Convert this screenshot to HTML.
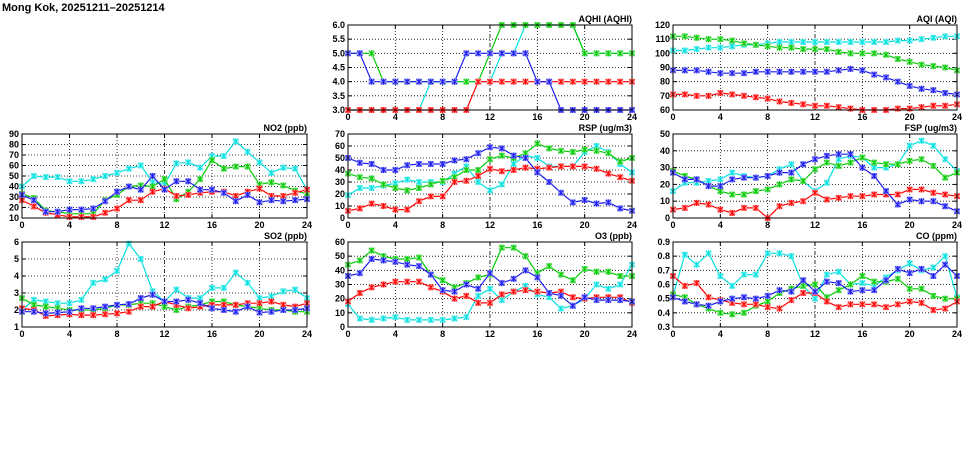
<!DOCTYPE html>
<html><head><meta charset="utf-8"><style>
body{margin:0;background:#fff;width:975px;height:447px;overflow:hidden}
svg text{font-family:"Liberation Sans",sans-serif;font-weight:bold;font-size:9px;fill:#000}
</style></head><body>
<svg id="s" width="975" height="447" xmlns="http://www.w3.org/2000/svg">
<text x="2" y="11" style="font-size:11px">Mong Kok, 20251211–20251214</text>
</svg>
<script>
const S=document.getElementById('s');
const C={r:'#ff0000',g:'#00cc00',c:'#00e0e0',b:'#1a1aee'};
const L={r:'#ff9a9a',g:'#9ae69a',c:'#a0f4f4',b:'#9a9af6'};
function P(x0,x1,y0,y1,title,ymin,ymax,step,dec,data){
 let h='';
 const X=i=>x0+(x1-x0)*i/24, Y=v=>y1-(y1-y0)*(v-ymin)/(ymax-ymin);
 for(let v=ymin;v<=ymax+1e-9;v+=step){const y=Y(v);
  if(v>ymin+1e-9&&v<ymax-1e-9)h+=`<line x1="${x0}" x2="${x1}" y1="${y}" y2="${y}" stroke="#000" stroke-width="0.8" stroke-dasharray="1,2"/>`;
  h+=`<line x1="${x0}" x2="${x0+4}" y1="${y}" y2="${y}" stroke="#000"/><line x1="${x1-4}" x2="${x1}" y1="${y}" y2="${y}" stroke="#000"/>`;
  h+=`<text x="${x0-3}" y="${y+3}" text-anchor="end">${v.toFixed(dec)}</text>`;}
 for(let i=0;i<=24;i+=4){const x=X(i);
  if(i>0&&i<24)h+=`<line x1="${x}" x2="${x}" y1="${y0}" y2="${y1}" stroke="#000" stroke-width="0.8" stroke-dasharray="${i==12?'4,2,1,2':'1,2'}"/>`;
  h+=`<line x1="${x}" x2="${x}" y1="${y1-4}" y2="${y1}" stroke="#000"/><line x1="${x}" x2="${x}" y1="${y0}" y2="${y0+4}" stroke="#000"/>`;
  h+=`<text x="${x}" y="${y1+10}" text-anchor="middle">${i}</text>`;}
 h+=`<text x="${x1}" y="${y0-3}" text-anchor="end">${title}</text>`;
 for(const k of ['c','g','r','b']){const d=data[k];
  const pts=d.map((v,i)=>X(i).toFixed(1)+','+Y(v).toFixed(1)).join(' ');
  h+=`<polyline points="${pts}" fill="none" stroke="${C[k]}" stroke-width="1.2"/>`;
  d.forEach((v,i)=>{const x=X(i),y=Y(v);
   h+=`<rect x="${x-3}" y="${y-3}" width="6" height="6" fill="${L[k]}"/><path d="M${x-2.5} ${y-2.5}L${x+2.5} ${y+2.5}M${x-2.5} ${y+2.5}L${x+2.5} ${y-2.5}M${x} ${y-3}V${y+3}" stroke="${C[k]}" stroke-width="1"/>`;});}
 h+=`<rect x="${x0}" y="${y0}" width="${x1-x0}" height="${y1-y0}" fill="none" stroke="#000" stroke-width="1"/>`;
 S.insertAdjacentHTML('beforeend',h);
}
P(348,632,25,110,'AQHI (AQHI)',3,6,0.5,1,{
g:[5,5,5,4,4,4,4,4,4,4,4,4,5,6,6,6,6,6,6,6,5,5,5,5,5],
c:[3,3,3,3,3,3,3,4,4,4,4,4,4,5,5,6,6,6,6,6,5,5,5,5,5],
r:[3,3,3,3,3,3,3,3,3,3,3,4,4,4,4,4,4,4,4,4,4,4,4,4,4],
b:[5,5,4,4,4,4,4,4,4,4,5,5,5,5,5,5,4,4,3,3,3,3,3,3,3]});
P(673,957,25,110,'AQI (AQI)',60,120,10,0,{
g:[112,112,111,110,110,109,107,106,105,104,104,103,103,103,101,100,100,100,99,96,94,92,91,90,88],
c:[102,102,103,104,104,105,106,106,107,108,108,108,108,108,108,108,108,108,108,109,109,110,111,112,112],
b:[88,88,88,87,86,86,86,87,87,87,87,87,87,87,88,89,88,85,83,80,77,75,74,72,71],
r:[71,71,70,70,72,71,70,69,68,66,65,64,63,63,62,61,60,60,60,61,61,62,63,63,64]});
P(22,307,134,218,'NO2 (ppb)',10,90,10,0,{
c:[40,50,49,49,45,45,47,50,53,57,60,44,42,62,63,58,69,69,83,73,63,53,58,57,37],
g:[33,29,17,16,14,14,14,27,32,40,41,40,47,28,35,47,65,57,59,59,42,44,41,36,33],
b:[32,27,16,16,18,18,19,26,35,40,37,50,37,45,45,37,37,34,26,32,25,27,26,27,28],
r:[27,21,15,13,11,11,11,15,19,27,27,35,38,31,32,34,35,35,31,35,38,31,31,34,37]});
P(348,632,134,218,'RSP (ug/m3)',0,70,10,0,{
b:[50,46,45,40,40,44,45,45,45,48,49,54,59,58,52,50,38,30,21,13,15,12,13,8,6],
g:[37,34,33,28,25,23,25,28,31,34,40,40,49,52,50,54,62,58,56,55,57,56,54,47,50],
c:[19,25,25,27,29,32,30,30,30,37,43,30,23,28,45,52,50,43,43,43,55,60,55,45,38],
r:[6,8,12,10,7,7,14,18,18,30,31,35,41,39,40,42,41,42,43,43,43,41,37,34,31]});
P(673,957,134,218,'FSP (ug/m3)',0,50,10,0,{
c:[16,21,21,22,23,27,25,24,25,29,32,22,16,21,35,37,36,30,30,32,43,46,43,35,28],
g:[28,25,23,19,16,14,14,16,17,20,23,22,29,33,31,33,36,33,32,32,34,35,31,24,27],
b:[27,23,23,19,19,23,24,24,25,27,27,32,35,37,38,38,30,25,16,8,11,10,10,7,4],
r:[5,6,9,8,5,3,6,6,0,7,9,10,15,11,12,13,13,14,14,14,17,17,15,14,13]});
P(22,307,242,327,'SO2 (ppb)',1,6,1,0,{
c:[2.0,2.6,2.5,2.4,2.4,2.6,3.6,3.8,4.3,5.9,5.0,3.1,2.5,3.2,2.7,2.7,3.3,3.3,4.2,3.6,2.7,2.8,3.1,3.2,2.7],
g:[2.7,2.3,2.2,2.1,2.0,2.0,2.0,2.1,2.3,2.3,2.4,2.4,2.2,2.0,2.2,2.3,2.5,2.5,2.3,2.2,2.1,2.0,2.0,1.9,1.9],
b:[1.9,1.9,1.8,1.85,1.9,2.1,2.1,2.2,2.3,2.35,2.7,2.9,2.5,2.5,2.6,2.4,2.1,2.0,1.9,2.2,1.85,1.9,2.0,2.0,2.1],
r:[2.1,2.0,1.65,1.7,1.75,1.7,1.7,1.75,1.8,1.9,2.2,2.2,2.5,2.3,2.1,2.2,2.3,2.3,2.3,2.4,2.4,2.5,2.3,2.2,2.4]});
P(348,632,242,327,'O3 (ppb)',0,60,10,0,{
g:[44,47,54,50,48,48,49,37,33,28,31,35,37,56,56,50,38,43,37,33,41,39,39,36,36],
b:[36,38,48,47,46,44,43,37,26,25,30,27,38,31,34,40,35,24,22,15,21,19,19,19,18],
r:[18,24,28,30,32,32,32,28,25,20,22,17,17,23,25,26,25,24,25,21,20,21,21,21,17],
c:[16,6,5,6,7,5,5,5,5,6,7,22,27,19,25,29,23,21,13,15,20,30,27,30,44]});
P(673,957,242,327,'CO (ppm)',0.3,0.9,0.1,1,{
c:[.52,.81,.74,.82,.66,.59,.67,.67,.82,.82,.80,.59,.50,.67,.69,.60,.61,.59,.65,.70,.75,.70,.72,.80,.51],
g:[.53,.51,.46,.43,.40,.39,.40,.45,.48,.54,.57,.59,.60,.51,.56,.60,.66,.62,.62,.64,.57,.57,.52,.50,.50],
b:[.51,.48,.46,.45,.48,.50,.51,.50,.52,.56,.55,.63,.55,.62,.61,.55,.56,.56,.63,.71,.68,.71,.66,.74,.66],
r:[.66,.59,.61,.51,.49,.47,.46,.46,.44,.43,.49,.54,.54,.48,.44,.46,.46,.46,.44,.46,.48,.47,.42,.43,.48]});
</script>
</body></html>
